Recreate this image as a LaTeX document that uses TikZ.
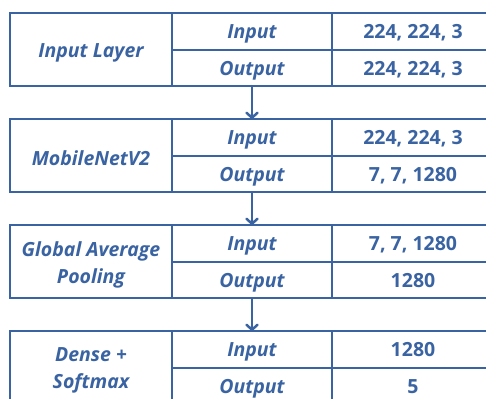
\documentclass[tikz,border=0pt]{standalone}
\usepackage{fontspec}
\setmainfont{Open Sans}
\usetikzlibrary{positioning, arrows.meta}
\definecolor{netblue}{RGB}{58,99,162}

\begin{document}
\begin{tikzpicture}[x=1pt, y=1pt,
  cell/.style={draw=netblue, line width=1.8pt, inner sep=0pt, outer sep=0pt,
    text=netblue, anchor=north west, text height=16pt, text depth=1.5pt,
    font=\fontsize{19.5}{27}\selectfont\bfseries},
  key/.style={cell, font=\fontsize{19.5}{27}\selectfont\bfseries\itshape},
  layname/.style={text=netblue, align=center, yshift=-3pt, inner sep=0pt,
    font=\fontsize{19.5}{27}\selectfont\bfseries\itshape},
  flow/.style={draw=netblue, line width=2.5pt, line cap=round,
    -{Straight Barb[length=5pt, width=11pt, line cap=round, line join=round]}}]
  \clip (0,0) rectangle (486,-398);

  % One block per layer: name, input shape, output shape
  \foreach \i/\t/\name/\inp/\outp in {
      1/13/{Input Layer}/{224, 224, 3}/{224, 224, 3},
      2/119/{MobileNetV2}/{224, 224, 3}/{7, 7, 1280},
      3/225/{Global Average\\Pooling}/{7, 7, 1280}/{1280},
      4/331/{Dense +\\Softmax}/{1280}/{5}} {
    \node[draw=netblue, line width=1.8pt, inner sep=0pt, outer sep=0pt, anchor=north west,
      minimum width=162, minimum height=73,
      label={[layname]center:\name}] (lay\i) at (10,-\t) {};
    \node[key, minimum width=160, minimum height=37] (in\i) at (lay\i.north east) {Input};
    \node[key, minimum width=160, minimum height=36] (out\i) at (in\i.south west) {Output};
    \node[cell, minimum width=162, minimum height=37] (inv\i) at (in\i.north east) {\inp};
    \node[cell, minimum width=162, minimum height=36] (outv\i) at (inv\i.south west) {\outp};
  }

  % Arrows between the blocks
  \foreach \i/\j in {1/2, 2/3, 3/4}
    \draw[flow] (out\i.south) -- (in\j.north);
\end{tikzpicture}
\end{document}
